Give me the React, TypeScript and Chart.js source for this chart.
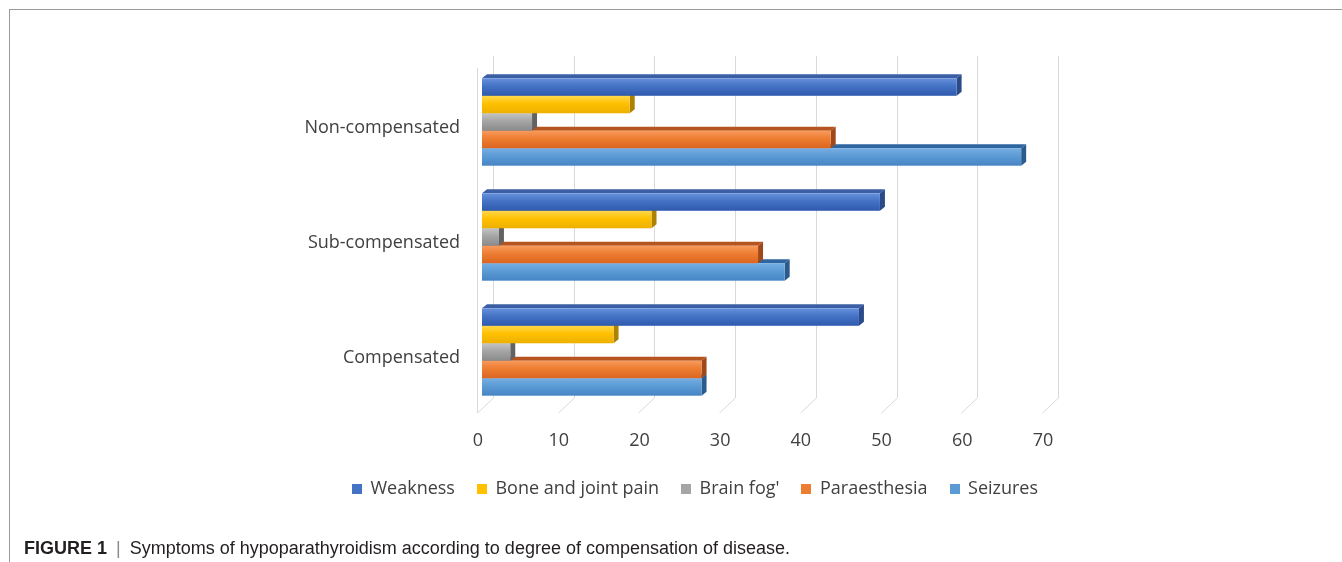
import React, { useEffect, useRef } from "react";
import { Chart, registerables } from "chart.js";

Chart.register(...registerables);

// Degree of compensation (one group of bars each)
const categories = ["Non-compensated", "Sub-compensated", "Compensated"];

// Symptom series, in legend order
const seriesNames = ["Weakness", "Bone and joint pain", "Brain fog'", "Paraesthesia", "Seizures"];
const weakness = [58.8, 49.3, 46.7];
const boneJointPain = [18.3, 21.0, 16.3];
const brainFog = [6.2, 2.1, 3.5];
const paraesthesia = [43.2, 34.2, 27.2];
const seizures = [66.8, 37.5, 27.2];
const seriesValues = [weakness, boneJointPain, brainFog, paraesthesia, seizures];

const xTicks = [0, 10, 20, 30, 40, 50, 60, 70];

// Office-style shading for each series: front gradient, top face, side face
const palettes = [
  { light: "#6690DC", base: "#4472C4", dark: "#2F5AAE", top: "#3B5FA5", side: "#2A4A88" },
  { light: "#FFD84D", base: "#FFC000", dark: "#EDB000", top: "#C99700", side: "#AD8200" },
  { light: "#C4C4C4", base: "#A5A5A5", dark: "#8A8A8A", top: "#7A7A7A", side: "#626262" },
  { light: "#F89A5C", base: "#ED7D31", dark: "#DC6520", top: "#B5541E", side: "#A0481A" },
  { light: "#76AEE3", base: "#5B9BD5", dark: "#4684C4", top: "#2F65A0", side: "#2B5A8C" },
];

const FONT = "'Open Sans', 'DejaVu Sans', sans-serif";
const TEXT_COLOR = "#404040";
const GRID_COLOR = "#D9D9D9";

// depth of each bar block (extrusion towards the back wall)
const DEPTH_X = 5;
const DEPTH_Y = -4;
// floor geometry relative to the bar plane
const BACK_DX = 11;
const FRONT_DX = -5;

const LEGEND_CENTER_X = 695;
const LEGEND_Y = 489;

// Back wall grid, floor lines and left wall edge of the 3-D plot box
const grid3d = {
  id: "grid3d",
  beforeDatasetsDraw(chart: any) {
    const { ctx, chartArea } = chart;
    const xs = chart.scales.x;
    const backTop = chartArea.top - 8.5;
    const floorBack = chartArea.bottom - 11.5;
    const floorFront = chartArea.bottom + 3.5;
    ctx.save();
    ctx.strokeStyle = GRID_COLOR;
    ctx.lineWidth = 1;
    for (const t of xs.ticks) {
      const px = Math.round(xs.getPixelForValue(t.value));
      const bx = px + BACK_DX + 0.5;
      const fx = px + FRONT_DX + 0.5;
      ctx.beginPath();
      ctx.moveTo(bx, backTop);
      ctx.lineTo(bx, floorBack);
      ctx.lineTo(fx, floorFront);
      ctx.stroke();
    }
    const wx = Math.round(xs.getPixelForValue(0)) + FRONT_DX + 0.5;
    ctx.beginPath();
    ctx.moveTo(wx, chartArea.top + 3.5);
    ctx.lineTo(wx, floorFront);
    ctx.stroke();
    ctx.restore();
  },
};

// Draws each bar as an extruded block: top face, end face, shaded front
const bars3d = {
  id: "bars3d",
  beforeDatasetDraw(chart: any, args: any) {
    const { ctx } = chart;
    const pal = palettes[args.index];
    ctx.save();
    for (const el of args.meta.data) {
      const { x, y, base, height } = el.getProps(["x", "y", "base", "height"], true);
      const top = y - height / 2;
      const bottom = y + height / 2;
      const left = Math.min(base, x);
      const right = Math.max(base, x);

      ctx.fillStyle = pal.top;
      ctx.beginPath();
      ctx.moveTo(left, top);
      ctx.lineTo(left + DEPTH_X, top + DEPTH_Y);
      ctx.lineTo(right + DEPTH_X, top + DEPTH_Y);
      ctx.lineTo(right, top);
      ctx.closePath();
      ctx.fill();

      ctx.fillStyle = pal.side;
      ctx.beginPath();
      ctx.moveTo(right, top);
      ctx.lineTo(right + DEPTH_X, top + DEPTH_Y);
      ctx.lineTo(right + DEPTH_X, bottom + DEPTH_Y);
      ctx.lineTo(right, bottom);
      ctx.closePath();
      ctx.fill();

      const g = ctx.createLinearGradient(0, top, 0, bottom);
      g.addColorStop(0, pal.light);
      g.addColorStop(0.45, pal.base);
      g.addColorStop(1, pal.dark);
      ctx.fillStyle = g;
      ctx.fillRect(left, top, right - left, height);
    }
    ctx.restore();
    return false;
  },
};

// Single-row legend under the axis
const legendRow = {
  id: "legendRow",
  afterDraw(chart: any) {
    const { ctx } = chart;
    const box = 10;
    const gap = 8.5;
    const spacing = 22;
    ctx.save();
    ctx.font = `18px ${FONT}`;
    ctx.textBaseline = "middle";
    ctx.textAlign = "left";
    const items = chart.data.datasets.map((ds: any, i: number) => ({
      text: ds.label as string,
      color: palettes[i].base,
      w: ctx.measureText(ds.label).width,
    }));
    const total =
      items.reduce((s: number, it: any) => s + box + gap + it.w, 0) + spacing * (items.length - 1);
    let cx = LEGEND_CENTER_X - total / 2;
    for (const it of items) {
      ctx.fillStyle = it.color;
      ctx.fillRect(Math.round(cx), Math.round(LEGEND_Y - box / 2), box, box);
      ctx.fillStyle = TEXT_COLOR;
      ctx.fillText(it.text, cx + box + gap, LEGEND_Y);
      cx += box + gap + it.w + spacing;
    }
    ctx.restore();
  },
};

function SymptomChart() {
  const ref = useRef<HTMLCanvasElement | null>(null);

  useEffect(() => {
    if (!ref.current) return;
    const chart = new Chart(ref.current, {
      type: "bar",
      data: {
        labels: categories,
        datasets: seriesNames.map((name, i) => ({
          label: name,
          data: seriesValues[i],
          backgroundColor: palettes[i].base,
          categoryPercentage: 0.76,
          barPercentage: 1,
        })),
      },
      options: {
        indexAxis: "y",
        animation: false,
        responsive: false,
        maintainAspectRatio: false,
        devicePixelRatio: 1,
        layout: { padding: { left: 0, right: 295, top: 64.5, bottom: 102.5 } },
        plugins: {
          legend: { display: false },
          tooltip: { enabled: false },
        },
        scales: {
          x: {
            type: "linear",
            min: 0,
            max: 70,
            grid: { display: false, drawTicks: false },
            border: { display: false },
            afterBuildTicks: (s: any) => {
              s.ticks = xTicks.map((v) => ({ value: v }));
            },
            afterFit: (s: any) => {
              s.height = 50;
            },
            ticks: {
              padding: 21,
              labelOffset: -4,
              color: TEXT_COLOR,
              font: { family: FONT, size: 18 },
              maxRotation: 0,
              autoSkip: false,
            },
          },
          y: {
            grid: { display: false, drawTicks: false },
            border: { display: false },
            afterFit: (s: any) => {
              s.width = 482;
            },
            ticks: {
              padding: 22,
              labelOffset: 6,
              color: TEXT_COLOR,
              font: { family: FONT, size: 18 },
            },
          },
        },
      } as any,
      plugins: [grid3d, bars3d, legendRow],
    });
    return () => chart.destroy();
  }, []);

  return (
    <canvas
      ref={ref}
      width={1342}
      height={562}
      style={{ position: "absolute", left: 0, top: 0, width: 1342, height: 562 }}
    />
  );
}

export default function App() {
  return (
    <div
      style={{
        position: "absolute",
        left: 0,
        top: 0,
        width: 1342,
        height: 562,
        background: "#ffffff",
        overflow: "hidden",
      }}
    >
      <div style={{ position: "absolute", left: 9, top: 9, width: 1333, height: 1, background: "#999999" }} />
      <div style={{ position: "absolute", left: 9, top: 9, width: 1, height: 553, background: "#999999" }} />
      <SymptomChart />
      <div
        style={{
          position: "absolute",
          left: 24,
          top: 539,
          fontFamily: "'Liberation Sans', Arial, sans-serif",
          fontSize: 18,
          lineHeight: "18px",
          color: "#231F20",
          whiteSpace: "nowrap",
        }}
      >
        <span style={{ fontWeight: 700 }}>FIGURE 1</span>
        <span style={{ color: "#8A8A8A", padding: "0 9px 0 9px" }}>|</span>
        <span>Symptoms of hypoparathyroidism according to degree of compensation of disease.</span>
      </div>
    </div>
  );
}
